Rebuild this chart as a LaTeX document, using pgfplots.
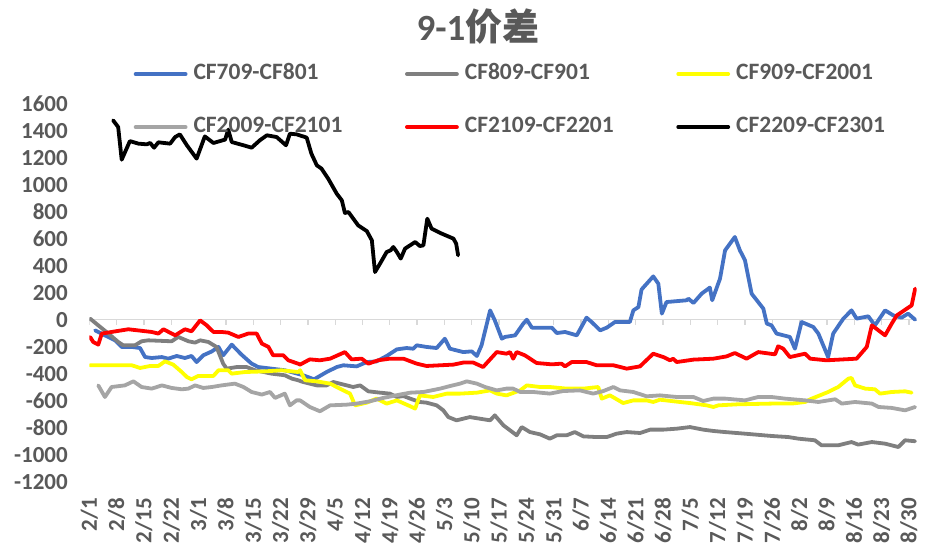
\documentclass[border=0pt]{standalone}
\usepackage{pgfplots}
\pgfplotsset{compat=1.18}
\usepackage{fontspec}
\setmainfont{Carlito}
\newfontfamily\cjk{Noto Sans CJK SC}
\definecolor{lblgray}{HTML}{595959}
\definecolor{zgray}{HTML}{D9D9D9}
\definecolor{cblue}{HTML}{4472C4}
\definecolor{cdgray}{HTML}{7F7F7F}
\definecolor{cyellow}{HTML}{FFFF00}
\definecolor{clgray}{HTML}{A5A5A5}
\definecolor{cred}{HTML}{FF0000}
\begin{document}
\begin{tikzpicture}
\path[use as bounding box] (-89.3pt,-61.3pt) rectangle (835.7pt,481.7pt);
\node[font=\fontsize{37}{42}\selectfont\bfseries, text=lblgray] at (388.7pt,454.7pt) {9-1{\cjk\bfseries 价差}};
\begin{axis}[
  at={(0pt,0pt)}, anchor=south west,
  scale only axis, width=827.4pt, height=377.7pt,
  xmin=0, xmax=212, ymin=-1200, ymax=1600,
  axis line style={draw=none},
  major tick length=0pt,
  xtick={0,7,...,210},
  xticklabels={2/1,2/8,2/15,2/22,3/1,3/8,3/15,3/22,3/29,4/5,4/12,4/19,4/26,5/3,5/10,5/17,5/24,5/31,6/7,6/14,6/21,6/28,7/5,7/12,7/19,7/26,8/2,8/9,8/16,8/23,8/30},
  ytick={-1200,-1000,-800,-600,-400,-200,0,200,400,600,800,1000,1200,1400,1600},
  yticklabels={-1200,-1000,-800,-600,-400,-200,0,200,400,600,800,1000,1200,1400,1600},
  tick label style={font=\fontsize{23}{27}\selectfont\bfseries, text=lblgray},
  xticklabel style={yshift=-16.3pt, rotate=90, anchor=east, inner sep=0pt},
  yticklabel style={xshift=-21.3pt, anchor=east, inner sep=0pt},
  every axis plot/.append style={line width=3.8pt, line join=round, line cap=round, no marks},
  legend columns=3,
  legend cell align=left,
  legend image code/.code={\draw[#1] (0pt,0pt) -- (50pt,0pt);},
  legend style={at={(axis description cs:0.0537,1.103)}, anchor=north west, draw=none, fill=none,
    inner sep=0pt, outer sep=0pt, column sep=6pt, row sep=35pt,
    font=\fontsize{23.5}{27}\selectfont\bfseries, text=lblgray,
    nodes={inner sep=0pt, text height=14pt, text depth=4pt}},
]
\pgfplotsinvokeforeach{0,7,...,210}{\draw[zgray, line width=1.3pt] (axis cs:#1,0) -- ([yshift=-5pt]axis cs:#1,0);}
\draw[zgray, line width=1.3pt] (axis cs:0,0) -- (axis cs:212,0);
\addplot[cblue] coordinates {(1.5,-78) (4.0,-115) (6.6,-152) (8.3,-201) (10.9,-201) (13.0,-209) (14.3,-276) (16.0,-283) (18.6,-276) (20.2,-288) (22.4,-268) (24.5,-283) (26.2,-268) (27.5,-313) (29.2,-263) (31.4,-234) (33.1,-201) (34.3,-263) (36.5,-184) (39.0,-258) (41.6,-325) (43.3,-350) (46.7,-362) (50.1,-374) (54.8,-411) (57.6,-441) (60.8,-387) (63.4,-350) (65.1,-337) (68.5,-345) (71.1,-313) (73.6,-308) (76.2,-268) (78.8,-219) (81.3,-209) (83.0,-214) (83.9,-189) (86.4,-201) (89.0,-209) (91.1,-140) (92.4,-214) (95.8,-239) (98.0,-234) (99.3,-268) (100.5,-189) (102.7,70) (103.9,-4) (105.7,-140) (106.5,-127) (109.1,-115) (111.2,-28) (112.1,1) (113.4,-58) (118.5,-58) (119.8,-98) (121.9,-90) (124.9,-115) (127.4,16) (128.7,-16) (130.9,-78) (132.6,-58) (134.7,-16) (138.5,-16) (139.4,70) (140.7,95) (141.5,225) (144.5,322) (145.8,268) (146.7,46) (147.9,132) (153.1,145) (153.5,157) (154.8,125) (156.9,194) (159.0,239) (159.6,145) (161.6,305) (162.9,515) (165.4,614) (166.7,515) (168.0,441) (169.7,194) (172.7,83) (173.6,-28) (174.8,-41) (176.1,-102) (179.5,-127) (180.8,-214) (182.5,-16) (185.5,-53) (186.8,-102) (189.3,-276) (190.6,-102) (193.2,9) (195.3,70) (196.6,9) (199.6,26) (201.3,-41) (203.9,70) (206.0,33) (208.1,16) (209.8,46) (211.6,1)};
\addlegendentry{\makebox[205.5pt][l]{CF709-CF801}}
\addplot[cdgray] coordinates {(0.2,9) (2.3,-41) (4.9,-102) (7.4,-164) (8.7,-189) (11.7,-189) (13.4,-159) (15.1,-152) (21.1,-159) (22.8,-127) (25.4,-159) (27.1,-169) (28.4,-152) (30.5,-164) (32.6,-201) (34.3,-325) (35.2,-362) (37.8,-350) (40.3,-350) (42.5,-374) (46.7,-399) (50.1,-411) (51.9,-436) (53.5,-448) (54.8,-461) (58.3,-486) (60.8,-486) (62.5,-461) (64.2,-473) (67.6,-498) (69.4,-486) (71.5,-530) (74.5,-540) (77.0,-547) (78.8,-572) (80.5,-565) (82.2,-584) (84.7,-609) (86.4,-614) (89.0,-634) (90.7,-671) (92.0,-721) (94.1,-745) (97.5,-721) (100.1,-733) (102.7,-745) (103.9,-708) (106.1,-782) (107.8,-819) (109.5,-856) (110.8,-795) (112.9,-832) (115.5,-849) (118.0,-881) (119.8,-856) (122.3,-856) (124.4,-832) (126.6,-864) (130.0,-869) (132.6,-869) (135.1,-844) (137.7,-832) (141.1,-839) (143.7,-814) (147.1,-814) (150.5,-807) (153.9,-795) (157.3,-814) (159.9,-824) (162.9,-832) (168.0,-844) (174.8,-861) (179.1,-869) (181.7,-881) (185.9,-893) (187.6,-930) (191.9,-930) (195.3,-906) (197.0,-925) (200.5,-906) (203.9,-918) (207.3,-943) (209.0,-893) (211.6,-900)};
\addlegendentry{\makebox[205.5pt][l]{CF809-CF901}}
\addplot[cyellow] coordinates {(0.2,-337) (10.9,-337) (13.0,-357) (15.6,-342) (17.7,-342) (19.4,-308) (21.5,-332) (23.7,-387) (25.0,-424) (26.2,-441) (27.9,-416) (31.8,-416) (33.1,-374) (35.6,-374) (36.5,-399) (39.9,-387) (45.0,-382) (49.3,-374) (53.5,-387) (54.0,-374) (55.3,-448) (58.3,-456) (61.7,-473) (64.2,-510) (66.8,-547) (68.1,-634) (71.1,-614) (73.6,-584) (76.2,-621) (78.8,-597) (81.7,-634) (83.5,-658) (84.7,-560) (88.1,-572) (91.6,-547) (95.0,-547) (99.3,-540) (102.7,-523) (104.4,-547) (106.9,-560) (110.4,-523) (112.1,-486) (115.5,-498) (118.0,-498) (122.3,-510) (126.6,-510) (130.4,-498) (131.3,-584) (133.4,-560) (136.8,-617) (139.4,-597) (142.8,-597) (144.5,-609) (146.2,-592) (151.3,-609) (153.9,-617) (158.2,-634) (159.9,-646) (161.2,-634) (166.3,-626) (174.8,-621) (180.0,-621) (183.4,-609) (185.1,-584) (187.2,-560) (189.3,-535) (191.9,-498) (194.5,-436) (195.3,-431) (196.2,-486) (198.8,-510) (201.3,-515) (202.6,-547) (205.6,-535) (209.0,-530) (210.7,-540)};
\addlegendentry{CF909-CF2001}
\addplot[clgray] coordinates {(2.3,-486) (4.0,-572) (5.7,-498) (9.1,-486) (11.3,-456) (13.4,-498) (16.0,-510) (18.6,-486) (21.1,-505) (23.7,-515) (25.4,-510) (27.1,-486) (29.2,-505) (31.4,-498) (33.9,-486) (37.3,-473) (39.5,-498) (41.6,-535) (44.2,-554) (46.3,-535) (47.6,-579) (50.1,-547) (51.4,-634) (53.1,-597) (54.0,-597) (56.5,-646) (59.1,-678) (61.7,-634) (65.9,-629) (68.5,-621) (71.9,-604) (75.3,-579) (79.6,-554) (82.2,-540) (85.6,-535) (89.9,-510) (92.4,-491) (95.0,-473) (96.7,-456) (99.3,-473) (101.4,-498) (104.4,-523) (106.9,-510) (108.6,-510) (110.4,-535) (113.8,-535) (118.0,-547) (121.4,-528) (125.7,-523) (129.1,-547) (131.7,-528) (134.3,-498) (136.0,-523) (139.4,-535) (142.8,-567) (146.2,-560) (150.5,-572) (154.8,-572) (157.3,-602) (159.9,-584) (162.9,-584) (168.0,-597) (171.4,-572) (174.8,-572) (178.2,-584) (183.4,-597) (186.8,-609) (191.1,-589) (192.8,-621) (196.2,-609) (200.5,-621) (202.2,-646) (205.6,-653) (209.0,-671) (211.6,-646)};
\addlegendentry{\makebox[205.5pt][l]{CF2009-CF2101}}
\addplot[cred] coordinates {(0.2,-127) (1.0,-164) (2.3,-184) (3.2,-102) (5.7,-90) (10.0,-70) (16.0,-90) (17.7,-102) (19.0,-70) (22.0,-115) (24.5,-70) (26.2,-85) (28.4,-4) (30.1,-41) (31.8,-90) (33.9,-90) (35.6,-95) (38.2,-127) (40.7,-102) (42.9,-102) (44.2,-176) (45.9,-201) (47.1,-263) (49.7,-263) (51.0,-300) (53.5,-325) (54.0,-332) (56.5,-293) (59.1,-300) (61.7,-288) (65.5,-239) (67.2,-293) (69.8,-288) (71.5,-325) (74.0,-300) (77.0,-288) (80.5,-288) (83.9,-325) (86.4,-342) (89.9,-337) (93.3,-332) (95.8,-317) (98.4,-317) (100.9,-350) (104.4,-239) (106.9,-251) (107.8,-239) (108.6,-288) (109.5,-239) (111.6,-263) (114.6,-320) (118.5,-330) (121.0,-325) (121.9,-345) (123.6,-313) (127.4,-313) (130.0,-337) (134.3,-337) (137.7,-362) (141.1,-345) (144.5,-251) (147.1,-276) (148.8,-300) (149.6,-288) (150.5,-313) (154.8,-295) (159.9,-288) (163.3,-271) (165.4,-246) (168.4,-288) (171.4,-239) (175.7,-256) (176.5,-196) (177.8,-214) (179.5,-276) (183.4,-251) (184.7,-288) (188.9,-300) (196.6,-288) (199.2,-201) (200.5,-41) (203.9,-115) (205.6,-28) (206.9,33) (210.7,107) (211.6,231)};
\addlegendentry{\makebox[205.5pt][l]{CF2109-CF2201}}
\addplot[black] coordinates {(6.1,1479) (7.4,1429) (8.3,1187) (10.4,1325) (12.6,1306) (14.7,1301) (15.6,1311) (16.6,1276) (17.7,1316) (20.7,1306) (22.0,1355) (23.2,1375) (25.0,1294) (27.5,1195) (29.6,1360) (31.8,1311) (34.8,1336) (35.6,1410) (36.5,1318) (39.5,1294) (41.6,1276) (43.7,1331) (45.5,1368) (48.0,1355) (50.4,1294) (51.4,1380) (53.1,1375) (55.7,1351) (56.9,1232) (58.3,1145) (59.5,1121) (61.2,1047) (63.4,935) (64.7,886) (65.5,792) (66.4,799) (68.9,700) (71.1,658) (72.4,589) (73.2,354) (74.5,417) (76.2,503) (77.2,515) (77.9,540) (78.8,503) (79.8,454) (80.9,528) (83.5,577) (84.7,547) (85.6,552) (86.6,750) (87.7,676) (90.3,639) (93.3,602) (94.0,565) (94.5,478)};
\addlegendentry{CF2209-CF2301}
\end{axis}
\end{tikzpicture}
\end{document}
